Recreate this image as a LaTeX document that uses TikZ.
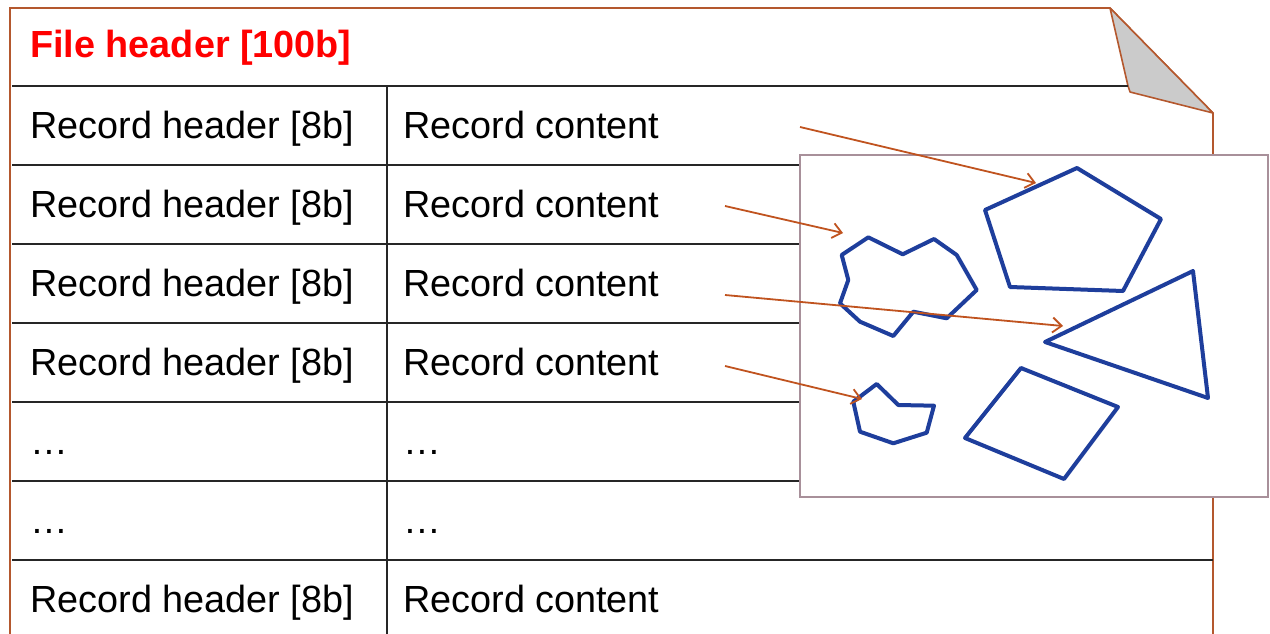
\documentclass[tikz,border=0pt]{standalone}
\usepackage{fontspec}
\setmainfont{Liberation Sans}
\usetikzlibrary{arrows.meta}
\definecolor{pagebrown}{HTML}{B4582E}
\definecolor{arrowc}{HTML}{C0531F}
\definecolor{boxc}{HTML}{A8909A}
\definecolor{shapeblue}{HTML}{1E3E9C}
\definecolor{hdrred}{HTML}{FF0000}
\definecolor{foldgray}{HTML}{CBCBCB}
\begin{document}
\begin{tikzpicture}[x=1pt,y=-1pt,
  txt/.style={anchor=base west,inner sep=0pt,font=\fontsize{37.8}{40}\selectfont,text=black},
  hdr/.style={anchor=base west,inner sep=0pt,font=\fontsize{37.8}{40}\selectfont\bfseries,text=hdrred},
  rule/.style={line width=1.6pt,color=black!85},
  pageline/.style={line width=1.6pt,color=pagebrown},
  shp/.style={line width=4pt,color=shapeblue,line join=round},
  arr/.style={line width=1.8pt,color=arrowc,-{Straight Barb[length=9pt,width=15pt]}}]
\useasboundingbox (0,0) rectangle (1270,634);
% page outline
\draw[pageline] (10,634) -- (10,8) -- (1110,8) -- (1213,113) -- (1213,634);
% fold
\draw[pageline,fill=foldgray,line join=round] (1110,8) -- (1128,86) -- (1130,92) -- (1213,113) -- cycle;
% table rules
\draw[rule] (12,86) -- (1128,86);
\foreach \yy in {165,244,323,402,481,560} \draw[rule] (12,\yy) -- (1213,\yy);
\draw[rule] (387,86) -- (387,634);
% texts
\node[hdr] (fh) at (30,58) {File header [100b]};
\node[txt] (h1) at (30,138) {Record header [8b]};
\node[txt] (c1) at (403,138) {Record content};
\node[txt] (h2) at (30,217) {Record header [8b]};
\node[txt] (c2) at (403,217) {Record content};
\node[txt] (h3) at (30,296) {Record header [8b]};
\node[txt] (c3) at (403,296) {Record content};
\node[txt] (h4) at (30,375) {Record header [8b]};
\node[txt] (c4) at (403,375) {Record content};
\node[txt] (h5) at (30,454) {…};
\node[txt] (c5) at (403,454) {…};
\node[txt] (h6) at (30,533) {…};
\node[txt] (c6) at (403,533) {…};
\node[txt] (h7) at (30,612) {Record header [8b]};
\node[txt] (c7) at (403,612) {Record content};
% image box
\draw[line width=1.6pt,color=boxc,fill=white] (800,155) rectangle (1268,497);
% shapes
\draw[shp] (985,210) -- (1077,168) -- (1161,219) -- (1123,291) -- (1010,287) -- cycle;
\draw[shp] (1045,342) -- (1193,271) -- (1208,398) -- cycle;
\draw[shp] (965,438) -- (1021,368) -- (1118,407) -- (1064,479) -- cycle;
\draw[shp] (841.7,255) -- (868.3,237.3) -- (902.7,254.3) -- (934,239) -- (956.7,255) -- (976.7,290) -- (946.7,318.3) -- (913.3,311.7) -- (893.3,336) -- (860,321.7) -- (840,303.3) -- (848.3,280) -- cycle;
\draw[shp] (853.3,401.7) -- (876.7,384) -- (898.3,405) -- (934,405.7) -- (926.7,432.7) -- (893.3,443.3) -- (860,431.7) -- cycle;
% arrows
\coordinate (s1) at (800,127);
\coordinate (e1) at (1036,183);
\coordinate (s2) at (725,206);
\coordinate (e2) at (843,233);
\coordinate (s3) at (725,295);
\coordinate (e3) at (1063,326);
\coordinate (s4) at (725,366);
\coordinate (e4) at (862,399);
\draw[arr] (s1) -- (e1);
\draw[arr] (s2) -- (e2);
\draw[arr] (s3) -- (e3);
\draw[arr] (s4) -- (e4);
\end{tikzpicture}
\end{document}
